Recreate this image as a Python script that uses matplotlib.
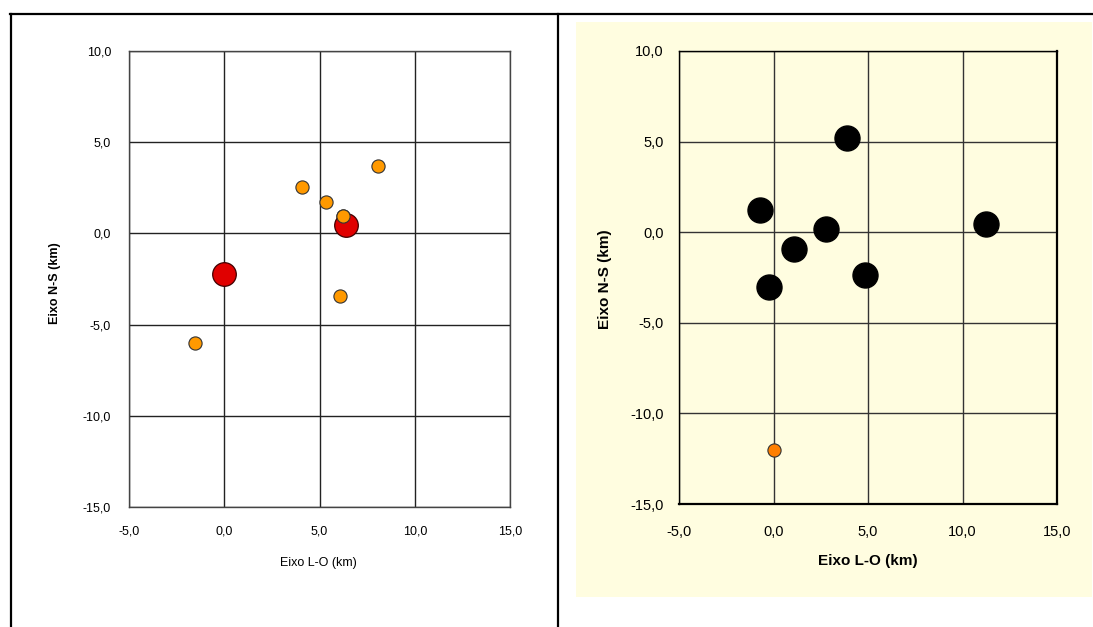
import matplotlib
matplotlib.use("Agg")
import matplotlib.pyplot as plt
from matplotlib.lines import Line2D
from matplotlib.patches import Rectangle

plt.rcParams['font.family'] = ['Liberation Sans', 'DejaVu Sans']

# ---- data ----
xticks = [-5, 0, 5, 10, 15]
yticks = [-15, -10, -5, 0, 5, 10]

left_small_x = [4.1, 5.35, 6.25, 8.05, 6.05, -1.55]
left_small_y = [2.55, 1.7, 0.95, 3.7, -3.45, -6.0]
left_big_x = [0.0, 6.4]
left_big_y = [-2.25, 0.45]

right_big_x = [3.9, -0.7, 2.8, 1.1, -0.25, 4.85, 11.25]
right_big_y = [5.2, 1.25, 0.15, -0.9, -3.0, -2.35, 0.45]
right_small_x = [0.0]
right_small_y = [-12.0]

def fmt(v):
    return f"{v:.1f}".replace('.', ',')

W, H = 1093, 627
fig = plt.figure(figsize=(W / 100, H / 100), dpi=100)
fig.patch.set_facecolor('white')

yellow = '#FFFDE0'
# yellow background of right panel
fig.add_artist(Rectangle((576 / W, 1 - 597 / H), (1092 - 576) / W, (597 - 22) / H,
                         transform=fig.transFigure, facecolor=yellow, edgecolor='none', zorder=-10))
# table frame lines
fig.add_artist(Line2D([10 / W, 1], [1 - 14 / H, 1 - 14 / H], color='black', lw=1.6, transform=fig.transFigure))
fig.add_artist(Line2D([11 / W, 11 / W], [0, 1 - 14 / H], color='black', lw=1.6, transform=fig.transFigure))
fig.add_artist(Line2D([558 / W, 558 / W], [0, 1 - 14 / H], color='black', lw=1.6, transform=fig.transFigure))

def setup(ax, face, tick_fs, gridc, edgec):
    ax.set_xlim(-5, 15)
    ax.set_ylim(-15, 10)
    ax.set_xticks(xticks)
    ax.set_yticks(yticks)
    ax.set_xticklabels([fmt(v) for v in xticks], fontsize=tick_fs)
    ax.set_yticklabels([fmt(v) for v in yticks], fontsize=tick_fs)
    ax.set_facecolor(face)
    ax.grid(True, color=gridc, lw=1.0)
    ax.set_axisbelow(True)
    ax.tick_params(length=0)
    for s in ax.spines.values():
        s.set_color(edgec)
        s.set_linewidth(1.0)

# left panel
axL = fig.add_axes([129 / W, 1 - 507 / H, (510 - 129) / W, (507 - 51) / H])
setup(axL, 'white', 9, '#222222', '#444444')
axL.tick_params(axis='x', pad=13)
axL.tick_params(axis='y', pad=13)
axL.plot(left_small_x, left_small_y, 'o', ms=9.5, mfc='#FF9900', mec='#333333', mew=0.8, zorder=3)
axL.plot(left_big_x, left_big_y, 'o', ms=17, mfc='#E00000', mec='#400000', mew=0.9, zorder=4)
# re-draw the one orange point that sits over the red one
axL.plot([left_small_x[2]], [left_small_y[2]], 'o', ms=9.5, mfc='#FF9900', mec='#333333', mew=0.8, zorder=5)
fig.text(318 / W, 1 - 563 / H, 'Eixo L-O (km)', fontsize=9, ha='center', va='center')
fig.text(55 / W, 1 - 283 / H, 'Eixo N-S (km)', fontsize=9, fontweight='bold', rotation=90,
         ha='center', va='center')

# right panel
axR = fig.add_axes([679 / W, 1 - 504 / H, (1057 - 679) / W, (504 - 51) / H])
setup(axR, yellow, 10.5, '#333333', 'black')
for s in ('right', 'bottom'):
    axR.spines[s].set_linewidth(1.6)
axR.tick_params(axis='x', pad=15)
axR.tick_params(axis='y', pad=11)
axR.plot(right_big_x, right_big_y, 'o', ms=18, mfc='black', mec='black', zorder=3)
axR.plot(right_small_x, right_small_y, 'o', ms=9.5, mfc='#FF7F00', mec='#333333', mew=0.8, zorder=3)
fig.text(868 / W, 1 - 561 / H, 'Eixo L-O (km)', fontsize=11, fontweight='bold', ha='center', va='center')
fig.text(605 / W, 1 - 279 / H, 'Eixo N-S (km)', fontsize=11, fontweight='bold', rotation=90,
         ha='center', va='center')

fig.savefig('out.png', dpi=100)
